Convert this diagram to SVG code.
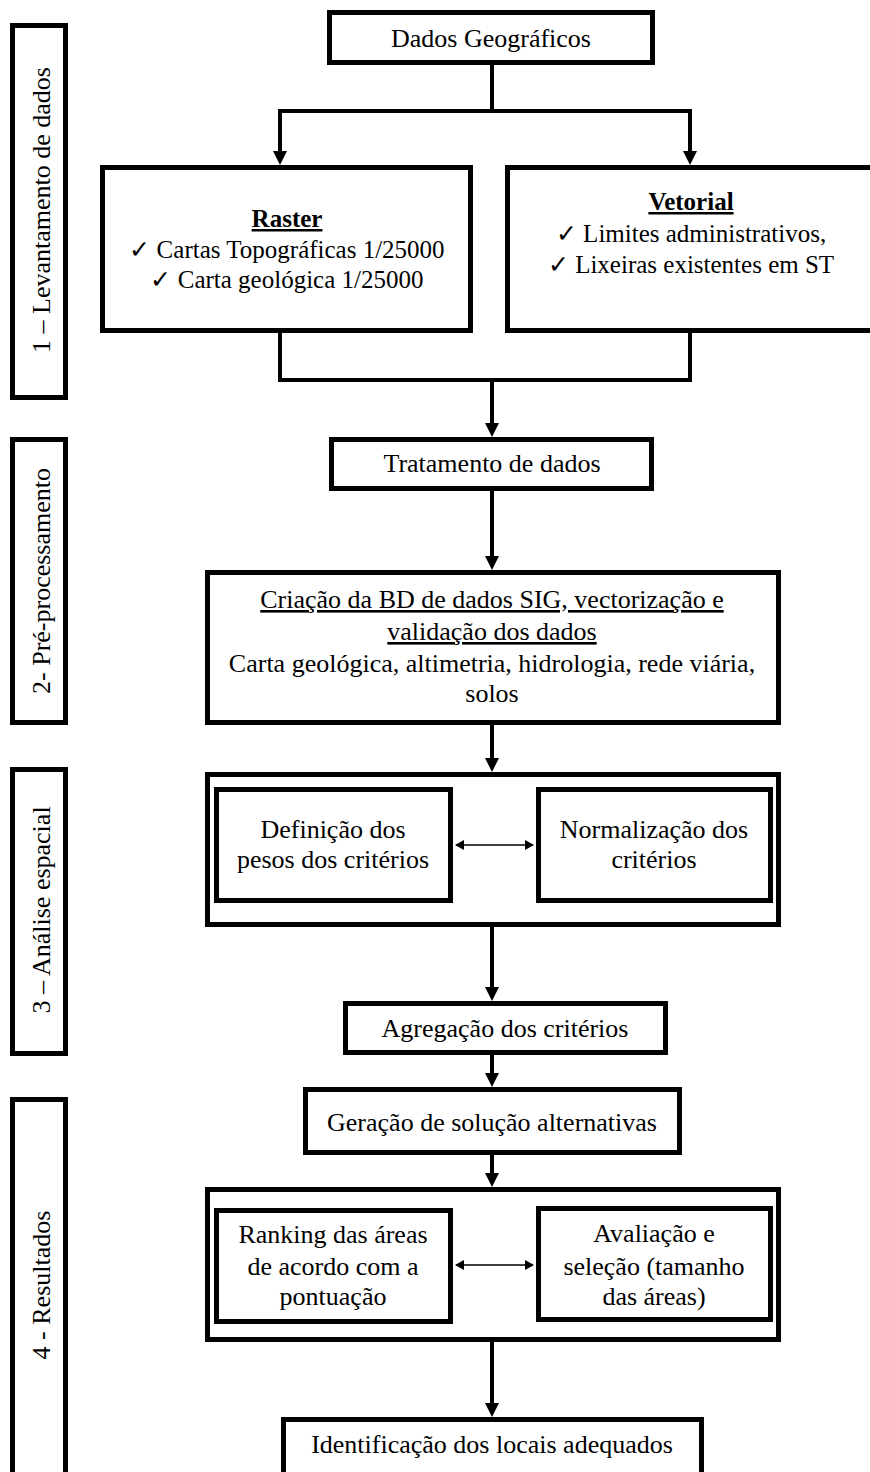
<svg xmlns="http://www.w3.org/2000/svg" width="870" height="1472" viewBox="0 0 870 1472">
<style>
.box{fill:#fff;stroke:#000;stroke-width:5}
.side{fill:none;stroke:#000;stroke-width:5}
.t{font-family:"Liberation Serif","Times New Roman",serif;font-size:26px;fill:#000;text-anchor:middle}
.s{font-size:25px}
.u{text-decoration:underline}
.b{font-weight:bold}
.c{fill:none;stroke:#000;stroke-width:4}
.thin{fill:none;stroke:#000;stroke-width:1.5}
</style>
<defs>
<marker id="ah" markerUnits="userSpaceOnUse" markerWidth="14" markerHeight="14" viewBox="0 0 14 14" refX="4" refY="7" orient="auto"><path d="M0,0 L14,7 L0,14 z" fill="#000"/></marker>
<marker id="sh" markerUnits="userSpaceOnUse" markerWidth="9" markerHeight="10" viewBox="0 0 9 10" refX="8" refY="5" orient="auto-start-reverse"><path d="M0,0 L9,5 L0,10 z" fill="#000"/></marker>
</defs>

<g id="stage1"><rect class="side" x="12.5" y="25.5" width="53" height="372"/><text class="t" transform="translate(50,210) rotate(-90)">1 – Levantamento de dados</text></g>
<g id="stage2"><rect class="side" x="12.5" y="439.5" width="53" height="283"/><text class="t" transform="translate(50,581) rotate(-90)">2- Pré-processamento</text></g>
<g id="stage3"><rect class="side" x="12.5" y="769.5" width="53" height="284"/><text class="t" transform="translate(50,910) rotate(-90)">3 – Análise espacial</text></g>
<g id="stage4"><rect class="side" x="12.5" y="1099.5" width="53" height="400"/><text class="t" transform="translate(50,1285) rotate(-90)">4 - Resultados</text></g>

<g id="dados"><rect class="box" x="329.5" y="12.5" width="323" height="50"/><text class="t" x="491" y="47">Dados Geográficos</text></g>

<g id="raster"><rect class="box" x="102.5" y="167.5" width="368" height="163"/>
<text class="t s" x="287" y="227"><tspan class="b u">Raster</tspan></text>
<text class="t s" x="287" y="258">✓ Cartas Topográficas  1/25000</text>
<text class="t s" x="287" y="288">✓ Carta geológica  1/25000</text></g>

<g id="vetorial"><rect class="box" x="507.5" y="167.5" width="380" height="163"/>
<text class="t s" x="691" y="210"><tspan class="b u">Vetorial</tspan></text>
<text class="t s" x="691" y="242">✓ Limites administrativos,</text>
<text class="t s" x="691" y="273">✓ Lixeiras existentes em ST</text></g>

<g id="tratamento"><rect class="box" x="331.5" y="439.5" width="320" height="49"/><text class="t" x="492" y="472">Tratamento de dados</text></g>

<g id="criacao"><rect class="box" x="207.5" y="572.5" width="571" height="150"/>
<text class="t" x="492" y="608"><tspan class="u">Criação da BD de dados SIG, vectorização e</tspan></text>
<text class="t" x="492" y="640"><tspan class="u">validação dos dados</tspan></text>
<text class="t" x="492" y="672">Carta geológica, altimetria, hidrologia, rede viária,</text>
<text class="t" x="492" y="702">solos</text></g>

<g id="analise"><rect class="box" x="207.5" y="774.5" width="571" height="150"/></g>
<g id="definicao"><rect class="box" x="216.5" y="789.5" width="234" height="111"/>
<text class="t" x="333" y="838">Definição dos</text><text class="t" x="333" y="868">pesos dos critérios</text></g>
<g id="normalizacao"><rect class="box" x="538.5" y="789.5" width="232" height="111"/>
<text class="t" x="654" y="838">Normalização dos</text><text class="t" x="654" y="868">critérios</text></g>

<g id="agregacao"><rect class="box" x="345.5" y="1003.5" width="320" height="49"/><text class="t" x="505" y="1037">Agregação dos critérios</text></g>

<g id="geracao"><rect class="box" x="305.5" y="1089.5" width="374" height="63"/><text class="t" x="492" y="1131">Geração de solução alternativas</text></g>

<g id="resultados"><rect class="box" x="207.5" y="1189.5" width="571" height="150"/></g>
<g id="ranking"><rect class="box" x="216.5" y="1210.5" width="234" height="111"/>
<text class="t" x="333" y="1243">Ranking das áreas</text><text class="t" x="333" y="1275">de acordo com a</text><text class="t" x="333" y="1305">pontuação</text></g>
<g id="avaliacao"><rect class="box" x="538.5" y="1208.5" width="232" height="111"/>
<text class="t" x="654" y="1242">Avaliação e</text><text class="t" x="654" y="1275">seleção (tamanho</text><text class="t" x="654" y="1305">das áreas)</text></g>

<g id="identificacao"><rect class="box" x="283.5" y="1419.5" width="418" height="80"/><text class="t" x="492" y="1453">Identificação dos locais adequados</text></g>

<g id="connectors">
<polyline class="c" points="492,65 492,111"/>
<polyline class="c" points="280,111 690,111"/>
<line class="c" x1="280" y1="109" x2="280" y2="155" marker-end="url(#ah)"/>
<line class="c" x1="690" y1="109" x2="690" y2="155" marker-end="url(#ah)"/>
<polyline class="c" points="280,333 280,380 690,380 690,333"/>
<line class="c" x1="492" y1="380" x2="492" y2="427" marker-end="url(#ah)"/>
<line class="c" x1="492" y1="491" x2="492" y2="560" marker-end="url(#ah)"/>
<line class="c" x1="492" y1="725" x2="492" y2="762" marker-end="url(#ah)"/>
<line class="c" x1="492" y1="927" x2="492" y2="991" marker-end="url(#ah)"/>
<line class="c" x1="492" y1="1055" x2="492" y2="1077" marker-end="url(#ah)"/>
<line class="c" x1="492" y1="1155" x2="492" y2="1177" marker-end="url(#ah)"/>
<line class="c" x1="492" y1="1342" x2="492" y2="1407" marker-end="url(#ah)"/>
<line class="thin" x1="456" y1="845" x2="533" y2="845" marker-start="url(#sh)" marker-end="url(#sh)"/>
<line class="thin" x1="456" y1="1265" x2="533" y2="1265" marker-start="url(#sh)" marker-end="url(#sh)"/>
</g>
</svg>
